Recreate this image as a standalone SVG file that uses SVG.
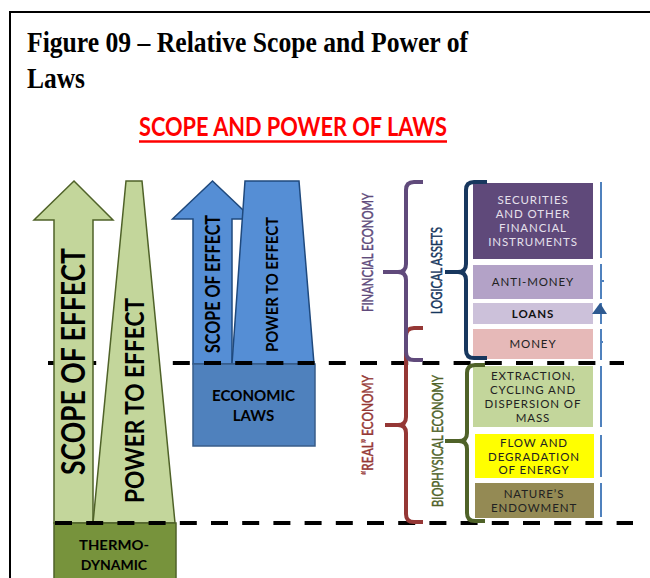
<svg xmlns="http://www.w3.org/2000/svg" width="650" height="578" viewBox="0 0 650 578">
<style>
.title{font-family:"Liberation Serif",serif;font-weight:bold;font-size:30px;fill:#000}
.cal{font-family:Lato,"Open Sans",sans-serif}
.b{font-weight:bold}
.lab{font-family:Lato,"Open Sans",sans-serif;font-size:16px;text-anchor:middle;stroke-width:0.45px}
.box{font-family:Lato,"Open Sans",sans-serif;font-size:11.5px;letter-spacing:0.9px;text-anchor:middle}
.dash{stroke:#000;stroke-width:4;fill:none;stroke-dasharray:17 14.2}
.brace{fill:none;stroke-width:4;stroke-linecap:butt;stroke-linejoin:round}
.vl{stroke:#4F81BD;stroke-width:2;fill:none}
</style>
<rect width="650" height="578" fill="#fff"/>
<path d="M10,578 V12 H650" fill="none" stroke="#000" stroke-width="2"/>
<text class="title" x="27" y="52" textLength="441" lengthAdjust="spacingAndGlyphs">Figure 09 – Relative Scope and Power of</text>
<text class="title" x="27" y="88" textLength="58" lengthAdjust="spacingAndGlyphs">Laws</text>
<g id="heading">
<text class="cal b" x="293" y="136" font-size="27" fill="#FF0000" text-anchor="middle" textLength="308" lengthAdjust="spacingAndGlyphs">SCOPE AND POWER OF LAWS</text>
<line x1="139" y1="141.5" x2="447" y2="141.5" stroke="#FF0000" stroke-width="2.5"/>
</g>
<g id="economic">
<path d="M193,364 V219 H172.5 L212.5,181 L252.5,219 H232 V364 Z" fill="#558ED5" stroke="#1F497D" stroke-width="1.5"/>
<path d="M232,364 L245,181 H299 L314,364 Z" fill="#558ED5" stroke="#1F497D" stroke-width="1.5"/>
<rect x="193" y="364" width="122" height="82" fill="#4F81BD" stroke="#385D8A" stroke-width="1.5"/>
<text class="cal b" font-size="20" text-anchor="middle" transform="translate(220,284) rotate(-90)" textLength="138" lengthAdjust="spacingAndGlyphs">SCOPE OF EFFECT</text>
<text class="cal b" font-size="17" text-anchor="middle" transform="translate(278,284.5) rotate(-90)" textLength="135" lengthAdjust="spacingAndGlyphs">POWER TO EFFECT</text>
<text class="cal b" font-size="15" text-anchor="middle" x="253.5" y="401" textLength="83" lengthAdjust="spacingAndGlyphs">ECONOMIC</text>
<text class="cal b" font-size="15" text-anchor="middle" x="253.5" y="421">LAWS</text>
</g>
<g id="connectors">
<line class="dash" x1="48" y1="363" x2="624" y2="363"/>
</g>
<g id="thermodynamic">
<path d="M54,523 V220 H34 L74,181 L113,220 H93 V523 Z" fill="#C3D69B" stroke="#4F6228" stroke-width="1.5"/>
<path d="M93,523 L126,181 H142 L175,523 Z" fill="#C3D69B" stroke="#4F6228" stroke-width="1.5"/>
<rect x="54" y="523" width="122" height="60" fill="#77933C" stroke="#4F6228" stroke-width="1.5"/>
<text class="cal b" font-size="32" text-anchor="middle" transform="translate(85,361.5) rotate(-90)" textLength="227" lengthAdjust="spacingAndGlyphs">SCOPE OF EFFECT</text>
<text class="cal b" font-size="26" text-anchor="middle" transform="translate(144,400.5) rotate(-90)" textLength="205" lengthAdjust="spacingAndGlyphs">POWER TO EFFECT</text>
<text class="cal b" font-size="14" text-anchor="middle" x="114" y="550" textLength="70" lengthAdjust="spacingAndGlyphs">THERMO-</text>
<text class="cal b" font-size="14" text-anchor="middle" x="114" y="570">DYNAMIC</text>
</g>
<g id="connectors-lower">
<line class="dash" x1="55" y1="523" x2="633" y2="523"/>
</g>
<g id="boxes">
<g id="securities"><rect x="473" y="183" width="120" height="76" fill="#5F497A"/>
<text class="box" fill="#E6E0EC" x="533" y="204">SECURITIES</text>
<text class="box" fill="#E6E0EC" x="533" y="218">AND OTHER</text>
<text class="box" fill="#E6E0EC" x="533" y="232">FINANCIAL</text>
<text class="box" fill="#E6E0EC" x="533" y="246">INSTRUMENTS</text></g>
<g id="anti-money"><rect x="473" y="265" width="120" height="34" fill="#B3A2C7"/>
<text class="box" fill="#222" x="533" y="286">ANTI-MONEY</text></g>
<g id="loans"><rect x="473" y="303" width="120" height="21" fill="#CCC1DA"/>
<text class="box b" fill="#111" x="533" y="318" letter-spacing="0.5">LOANS</text></g>
<g id="money"><rect x="473" y="329" width="120" height="30" fill="#E6B9B8"/>
<text class="box" fill="#222" x="533" y="348">MONEY</text></g>
<g id="mass"><rect x="473" y="366" width="120" height="61" fill="#C3D69B"/>
<text class="box" fill="#222" x="533" y="380">EXTRACTION,</text>
<text class="box" fill="#222" x="533" y="394">CYCLING AND</text>
<text class="box" fill="#222" x="533" y="408">DISPERSION OF</text>
<text class="box" fill="#222" x="533" y="422">MASS</text></g>
<g id="energy"><rect x="475" y="434" width="119" height="44" fill="#FFFF00"/>
<text class="box" fill="#222" x="534" y="447">FLOW AND</text>
<text class="box" fill="#222" x="534" y="461">DEGRADATION</text>
<text class="box" fill="#222" x="534" y="474">OF ENERGY</text></g>
<g id="endowment"><rect x="475" y="483" width="119" height="35" fill="#948A54"/>
<text class="box" fill="#222" x="534" y="498">NATURE’S</text>
<text class="box" fill="#222" x="534" y="512">ENDOWMENT</text></g>
</g>
<g id="braces">
<path class="brace" stroke="#953735" d="M423,328 H414 Q406,328 406,336 V417 Q406,425 398,425 H385 M398,425 Q406,425 406,433 V514 Q406,522 414,522 H423"/>
<path class="brace" stroke="#604A7B" d="M423,182 H414 Q406,182 406,190 V264 Q406,272 398,272 H383 M398,272 Q406,272 406,280 V352 Q406,360 414,360 H423"/>
<path class="brace" stroke="#17375E" d="M487,182 H474 Q466,182 466,190 V264 Q466,272 458,272 H445 M458,272 Q466,272 466,280 V350 Q466,358 474,358 H487"/>
<path class="brace" stroke="#4F6228" d="M485,365 H475 Q467,365 467,373 V433 Q467,441 459,441 H445 M459,441 Q467,441 467,449 V513 Q467,521 475,521 H485"/>
<text class="lab" fill="#604A7B" stroke="#604A7B" transform="translate(373,252.5) rotate(-90)" textLength="119" lengthAdjust="spacingAndGlyphs">FINANCIAL ECONOMY</text>
<text class="lab" fill="#17375E" stroke="#17375E" transform="translate(442,270.5) rotate(-90)" textLength="87" lengthAdjust="spacingAndGlyphs">LOGICAL ASSETS</text>
<text class="lab" fill="#953735" stroke="#953735" transform="translate(373,425) rotate(-90)" textLength="100" lengthAdjust="spacingAndGlyphs">“REAL” ECONOMY</text>
<text class="lab" fill="#4F6228" stroke="#4F6228" transform="translate(443,441) rotate(-90)" textLength="132" lengthAdjust="spacingAndGlyphs">BIOPHYSICAL ECONOMY</text>
</g>
<g id="scale">
<path class="vl" d="M601,182 V258 M601,264 V299 M601,281 H604 M601,303 V324 M601,329 V360 M601,342 H603 M601,366 V427 M601,435 V477 M601,483 V517"/>
<path d="M600,303 L607,314 H592 Z" fill="#2E5A91"/>
</g>
</svg>
